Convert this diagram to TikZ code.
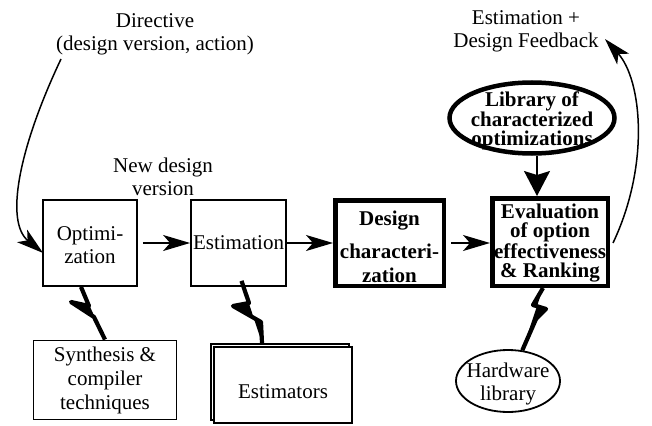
\documentclass[tikz,border=0pt]{standalone}
\usepackage{fontspec}
\setmainfont{Liberation Serif}
\usetikzlibrary{arrows.meta,calc,shapes.geometric}
\begin{document}
\begin{tikzpicture}[x=1pt,y=-1pt,
  every node/.style={font=\fontsize{21}{23}\selectfont, align=center, inner sep=0pt},
  thinbox/.style={draw, line width=1.8pt, rectangle},
  thickbox/.style={draw, line width=4.5pt, rectangle},
  bf/.style={font=\fontsize{21}{19}\selectfont\bfseries},
  arr/.style={line width=1.5pt, -{Stealth[length=27pt,width=16pt,inset=7pt]}},
  bolt/.style={line width=4.2pt, line join=round},
]
\useasboundingbox (0,0) rectangle (652,425);

% free text
\node (dir) at (155,34) {Directive\\(design version, action)};
\node (nd) at (163,177) {New design\\version};
\node (fb) at (526,31) {Estimation +\\Design Feedback};

% boxes
\node[thinbox, minimum width=94, minimum height=86] (opt) at (90,243) {};
\node (optt) at (90,245) {Optimi-\\zation};
\node[thinbox, minimum width=95, minimum height=86] (est) at (238.5,243) {Estimation};
\node[thickbox, minimum width=108.5, minimum height=85.5] (des) at (389.5,243) {};
\node[bf] (dest) at (389.5,246.5) {Design\\[13pt]characteri-\\[5pt]zation};
\node[thickbox, minimum width=115.5, minimum height=87.5] (eval) at (550,242) {};
\node[bf] (evalt) at (550,243) {Evaluation\\of option\\effectiveness\\\& Ranking};

\node[ellipse, draw, line width=4.5pt, minimum width=165, minimum height=71] (lib) at (532,118) {};
\node[bf] (libt) at (532,121) {Library of\\characterized\\optimizations};

\node[thinbox, minimum width=143, minimum height=79, font=\fontsize{21}{24}\selectfont] (synth) at (105,380) {Synthesis \&\\compiler\\techniques};

\node[thinbox, minimum width=138.5, minimum height=76] (estb) at (280,382) {};
\node[thinbox, fill=white, minimum width=138.5, minimum height=76] (estf) at (283,385) {};
\node (estt) at (283,392) {Estimators};

\node[ellipse, draw, line width=1.8pt, minimum width=104, minimum height=62] (hw) at (508,381) {};
\node (hwt) at (508,384) {Hardware\\library};

% connectors
\draw[arr, shorten <=5pt] (opt.east) -- (est.west);
\draw[arr] (est.east) -- (est.east -| des.west);
\draw[arr, shorten <=5pt] (des.east) -- (des.east -| eval.west);
\coordinate (la) at ($(lib.south)+(5,0)$);
\draw[line width=1.5pt, -{Stealth[length=25pt,width=26pt,inset=4pt]}] (la) -- (la |- eval.north);

\coordinate (dstart) at (61,59);
\draw[arr] (dstart) .. controls (18,150) and (5,222) .. ($(opt.west)+(1,10)$);
\coordinate (fbend) at (605,39);
\draw[arr] ($(eval.east)+(3,1)$) .. controls (650,165) and (642,80) .. (fbend);

% lightning links
\coordinate (b1s) at ($(opt.south)+(-9,0)$);
\filldraw[bolt] (b1s) -- (89,306) -- (71,302) -- (94,317) -- (synth.north);
\coordinate (b2s) at ($(est.south)+(3,-6)$);
\coordinate (b2e) at ($(estb.north)+(-18,0)$);
\filldraw[bolt] (b2s) -- (249,303) -- (233,306) -- (261,322) -- (b2e);
\coordinate (b3s) at ($(eval.south)+(-7,0)$);
\filldraw[bolt] (b3s) -- (533,305) -- (546,309) -- (536,319) -- (hw.65);
\end{tikzpicture}
\end{document}
